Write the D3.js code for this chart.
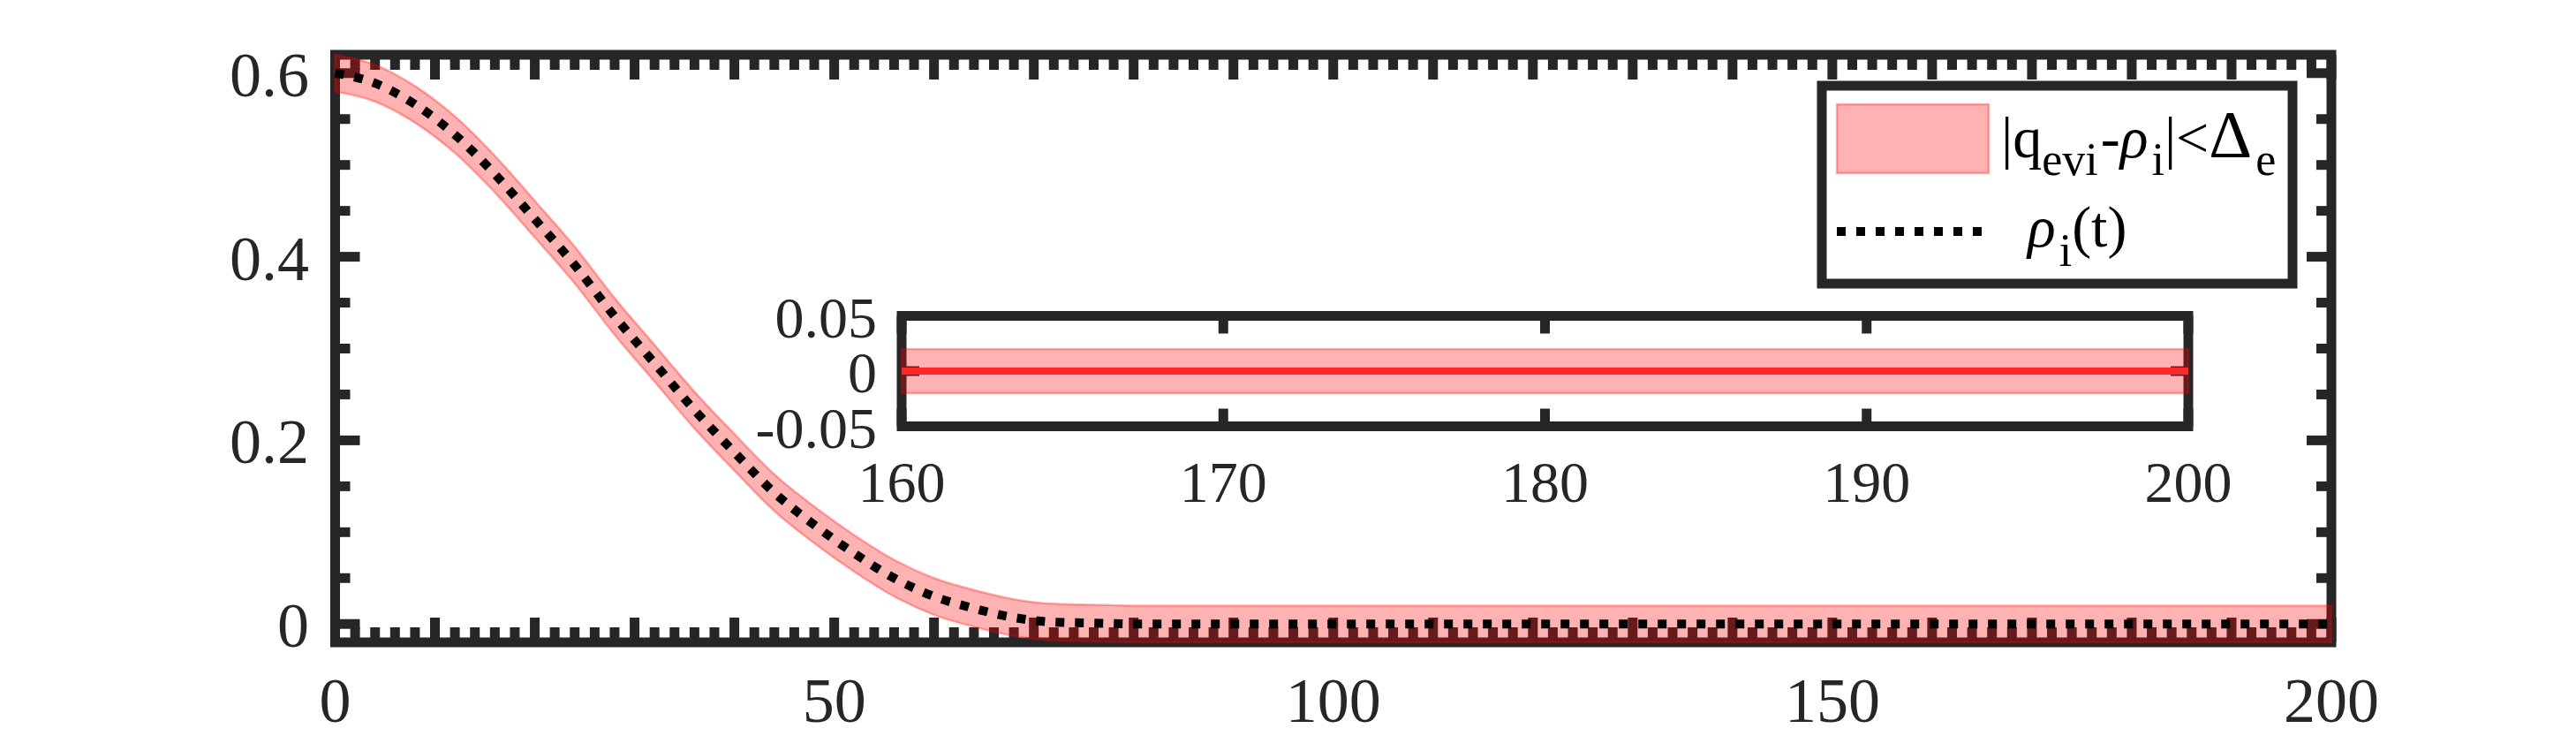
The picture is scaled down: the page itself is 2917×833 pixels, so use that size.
<!DOCTYPE html>
<html>
<head>
<meta charset="utf-8">
<script src="https://cdn.jsdelivr.net/npm/d3@7"></script>
<style>
  html, body { margin: 0; padding: 0; background: #fff; }
  svg { display: block; }
  text { font-family: "Liberation Serif", "Times New Roman", serif; }
</style>
</head>
<body>
<svg id="chart" width="2917" height="833"></svg>
<script>
// values
const timeSamples = [0, 4, 8, 12, 16, 20, 24, 28, 32, 36, 40, 44, 48, 52, 56, 60, 64, 68, 72, 76, 80, 200];
const rhoValues = [0.600, 0.589, 0.566, 0.533, 0.490, 0.441, 0.391, 0.335, 0.284, 0.233, 0.187,
  0.143, 0.108, 0.077, 0.050, 0.030, 0.017, 0.007, 0.002, 0.001, 0, 0];
const deltaE = 0.02;

const insetTimes = [160, 200];
const insetRho = [0, 0];

const xTickLabels = [0, 50, 100, 150, 200];
const yTickLabels = [0, 0.2, 0.4, 0.6];
const insetXTickLabels = [160, 170, 180, 190, 200];
const insetYTickLabels = [-0.05, 0, 0.05];

const axisColor = "#262626";
const lineW = 11;

const svg = d3.select("#chart");

const x = d3.scaleLinear().domain([0, 200]).range([379.5, 2640]);
const y = d3.scaleLinear().domain([-0.02, 0.62]).range([727, 62]);

const xi = d3.scaleLinear().domain([160, 200]).range([1021, 2478]);
const yi = d3.scaleLinear().domain([-0.05, 0.05]).range([482.5, 357.5]);

const mainData = timeSamples.map((t, i) => ({ t: t, v: rhoValues[i] }));
const insetData = insetTimes.map((t, i) => ({ t: t, v: insetRho[i] }));

function vTicks(g, values, sx, y0, len) {
  g.selectAll(null)
    .data(values)
    .enter()
    .append("line")
    .attr("x1", (d) => sx(d.v))
    .attr("x2", (d) => sx(d.v))
    .attr("y1", y0)
    .attr("y2", (d) => y0 + len * d.size)
    .attr("stroke", axisColor)
    .attr("stroke-width", lineW);
}

function hTicks(g, values, sy, x0, len) {
  g.selectAll(null)
    .data(values)
    .enter()
    .append("line")
    .attr("y1", (d) => sy(d.v))
    .attr("y2", (d) => sy(d.v))
    .attr("x1", x0)
    .attr("x2", (d) => x0 + len * d.size)
    .attr("stroke", axisColor)
    .attr("stroke-width", lineW);
}

function box(g, sx, sy) {
  const [xa, xb] = sx.range();
  const [ya, yb] = sy.range();
  g.append("rect")
    .attr("x", xa)
    .attr("y", yb)
    .attr("width", xb - xa)
    .attr("height", ya - yb)
    .attr("fill", "none")
    .attr("stroke", axisColor)
    .attr("stroke-width", lineW);
}

// ---- main axes ----
const main = svg.append("g");

const xTicksMain = d3.range(0, 101).map((i) => ({ v: i * 2, size: i % 5 === 0 ? 28 : 17 }));
const yTicksMain = d3.range(0, 13).map((i) => ({ v: i * 0.05, size: i % 4 === 0 ? 28 : 17 }));

vTicks(main, xTicksMain, x, y.range()[0], -1);
vTicks(main, xTicksMain, x, y.range()[1], 1);
hTicks(main, yTicksMain, y, x.range()[0], 1);
hTicks(main, yTicksMain, y, x.range()[1], -1);
box(main, x, y);

const band = d3
  .area()
  .x((d) => x(d.t))
  .y0((d) => y(d.v - deltaE))
  .y1((d) => y(d.v + deltaE))
  .curve(d3.curveMonotoneX);

main
  .append("path")
  .datum(mainData)
  .attr("d", band)
  .attr("fill", "red")
  .attr("fill-opacity", 0.3)
  .attr("stroke", "red")
  .attr("stroke-opacity", 0.3)
  .attr("stroke-width", 2.5);

const rhoLine = d3
  .line()
  .x((d) => x(d.t))
  .y((d) => y(d.v))
  .curve(d3.curveMonotoneX);

main
  .append("path")
  .datum(mainData)
  .attr("d", rhoLine)
  .attr("fill", "none")
  .attr("stroke", "#000")
  .attr("stroke-width", 10)
  .attr("stroke-dasharray", "10 12");

main
  .selectAll(".xlab")
  .data(xTickLabels)
  .enter()
  .append("text")
  .attr("x", (d) => x(d))
  .attr("y", 817)
  .attr("text-anchor", "middle")
  .attr("font-size", 72)
  .attr("fill", axisColor)
  .text((d) => d);

main
  .selectAll(".ylab")
  .data(yTickLabels)
  .enter()
  .append("text")
  .attr("x", 350)
  .attr("y", (d) => y(d) + 26)
  .attr("text-anchor", "end")
  .attr("font-size", 72)
  .attr("fill", axisColor)
  .text((d) => d);

// ---- inset ----
const inset = svg.append("g");

inset
  .append("rect")
  .attr("x", xi.range()[0])
  .attr("y", yi.range()[1])
  .attr("width", xi.range()[1] - xi.range()[0])
  .attr("height", yi.range()[0] - yi.range()[1])
  .attr("fill", "#fff");

const xTicksInset = insetXTickLabels.map((v) => ({ v: v, size: 20 }));
const yTicksInset = insetYTickLabels.map((v) => ({ v: v, size: 20 }));

vTicks(inset, xTicksInset, xi, yi.range()[0], -1);
vTicks(inset, xTicksInset, xi, yi.range()[1], 1);
hTicks(inset, yTicksInset, yi, xi.range()[0], 1);
hTicks(inset, yTicksInset, yi, xi.range()[1], -1);
box(inset, xi, yi);

const insetBand = d3
  .area()
  .x((d) => xi(d.t))
  .y0((d) => yi(d.v - deltaE))
  .y1((d) => yi(d.v + deltaE));

inset
  .append("path")
  .datum(insetData)
  .attr("d", insetBand)
  .attr("fill", "red")
  .attr("fill-opacity", 0.3)
  .attr("stroke", "red")
  .attr("stroke-opacity", 0.3)
  .attr("stroke-width", 2.5);

inset
  .append("path")
  .datum(insetData)
  .attr("d", d3.line().x((d) => xi(d.t)).y((d) => yi(d.v)))
  .attr("fill", "none")
  .attr("stroke", "#ff2828")
  .attr("stroke-width", 8);

inset
  .selectAll(".xlab")
  .data(insetXTickLabels)
  .enter()
  .append("text")
  .attr("x", (d) => xi(d))
  .attr("y", 568)
  .attr("text-anchor", "middle")
  .attr("font-size", 66)
  .attr("fill", axisColor)
  .text((d) => d);

inset
  .selectAll(".ylab")
  .data(insetYTickLabels)
  .enter()
  .append("text")
  .attr("x", 993)
  .attr("y", (d) => yi(d) + 24)
  .attr("text-anchor", "end")
  .attr("font-size", 66)
  .attr("fill", axisColor)
  .text((d) => d);

// ---- legend ----
const legend = svg.append("g");

legend
  .append("rect")
  .attr("x", 2063)
  .attr("y", 97)
  .attr("width", 533)
  .attr("height", 224)
  .attr("fill", "#fff")
  .attr("stroke", axisColor)
  .attr("stroke-width", lineW);

legend
  .append("rect")
  .attr("x", 2080)
  .attr("y", 118)
  .attr("width", 172)
  .attr("height", 78)
  .attr("fill", "red")
  .attr("fill-opacity", 0.3)
  .attr("stroke", "red")
  .attr("stroke-opacity", 0.3)
  .attr("stroke-width", 2.5);

legend
  .append("line")
  .attr("x1", 2080)
  .attr("x2", 2246)
  .attr("y1", 262)
  .attr("y2", 262)
  .attr("stroke", "#000")
  .attr("stroke-width", 10)
  .attr("stroke-dasharray", "10 12");

const big = 66;
const small = 52;
const sub = 20;

const t1 = legend
  .append("text")
  .attr("x", 2266)
  .attr("y", 178)
  .attr("font-size", big)
  .attr("fill", "#000");
t1.append("tspan").text("|q");
t1.append("tspan").attr("font-size", small).attr("dy", sub).text("evi");
t1.append("tspan").attr("dy", -sub).attr("dx", 3).text("-");
t1.append("tspan").attr("font-style", "italic").text("\u03C1");
t1.append("tspan").attr("font-size", small).attr("dy", sub).attr("dx", 4).text("i");
t1.append("tspan").attr("dy", -sub).text("|<");
t1.append("tspan").attr("font-size", 76).text("\u0394");
t1.append("tspan").attr("font-size", small).attr("dy", sub).attr("dx", 4).text("e");

const t2 = legend
  .append("text")
  .attr("x", 2296)
  .attr("y", 279)
  .attr("font-size", big)
  .attr("fill", "#000");
t2.append("tspan").attr("font-style", "italic").text("\u03C1");
t2.append("tspan").attr("font-size", small).attr("dy", sub + 2).attr("dx", 4).text("i");
t2.append("tspan").attr("dy", -sub - 2).text("(t)");
</script>
</body>
</html>
